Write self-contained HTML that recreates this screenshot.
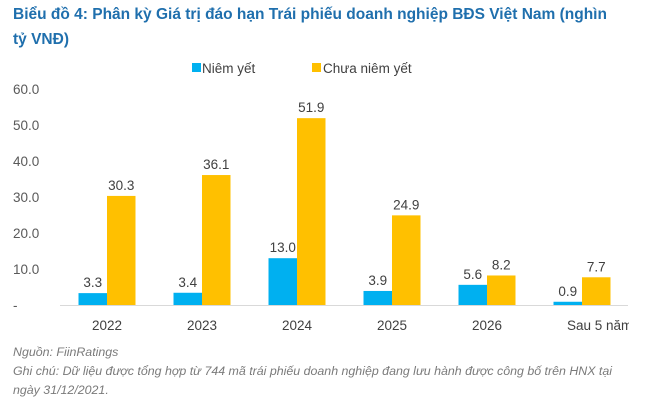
<!DOCTYPE html>
<html><head><meta charset="utf-8"><style>
body{margin:0;width:666px;height:403px;background:#fff;font-family:"Liberation Sans",sans-serif;overflow:hidden;position:relative}
.t{position:absolute;left:13px;top:2px;color:#1f6fad;font-weight:bold;font-size:15.5px;line-height:25px;width:612px}
.n{position:absolute;left:13px;color:#7a7a7a;font-style:italic;font-size:12.4px}
</style></head><body>
<div class="t">Biểu đồ 4: Phân kỳ Giá trị đáo hạn Trái phiếu doanh nghiệp BĐS Việt Nam (nghìn tỷ VNĐ)</div>
<svg id="c" width="666" height="403" style="position:absolute;left:0;top:0"></svg>
<div class="n" style="top:345px">Nguồn: FiinRatings</div>
<div class="n" style="top:364px">Ghi chú: Dữ liệu được tổng hợp từ 744 mã trái phiếu doanh nghiệp đang lưu hành được công bố trên HNX tại</div>
<div class="n" style="top:383px">ngày 31/12/2021.</div>
<script>
const categories=["2022","2023","2024","2025","2026","Sau 5 năm"];
const listed=[3.3,3.4,13.0,3.9,5.6,0.9];
const unlisted=[30.3,36.1,51.9,24.9,8.2,7.7];
const yTicks=[0,10,20,30,40,50,60];
const yTickLabels=["-","10.0","20.0","30.0","40.0","50.0","60.0"];
const svg=document.getElementById('c');const NS="http://www.w3.org/2000/svg";
function y(v){return 305-v*3.6;}
function x(i){return 107+i*95;}
const BW=28.5;
function mk(t,a,txt){const e=document.createElementNS(NS,t);for(const k in a)e.setAttribute(k,a[k]);if(txt!=null)e.textContent=txt;svg.appendChild(e);return e;}
yTicks.forEach((v,i)=>{const e=mk('text',{x:13,y:y(v)+5,'font-size':13.5,fill:'#595959'},yTickLabels[i]);

});
const ax=mk('line',{x1:60,x2:628,y1:305.5,y2:305.5,stroke:'#d9d9d9'});


categories.forEach((c,i)=>{
 const b1=mk('rect',{x:x(i)-BW,y:y(listed[i]),width:BW,height:305-y(listed[i]),fill:'#00b0f0'});
 
 
 const b2=mk('rect',{x:x(i),y:y(unlisted[i]),width:BW,height:305-y(unlisted[i]),fill:'#ffc000'});
 
 
 const l1=mk('text',{x:x(i)-BW/2,y:y(listed[i])-6,'font-size':13.5,fill:'#404040','text-anchor':'middle'},listed[i].toFixed(1));
 
 
 const l2=mk('text',{x:x(i)+BW/2,y:y(unlisted[i])-6,'font-size':13.5,fill:'#404040','text-anchor':'middle'},unlisted[i].toFixed(1));
 
 
 const last=i===categories.length-1;
 const cl=mk('text',{x:last?x(i)-15:x(i),y:330,'font-size':13.5,fill:'#404040','text-anchor':last?'start':'middle'},c);
 
 
});
const cover=mk('rect',{x:629,y:310,width:40,height:30,fill:'#fff'});


const lg1=mk('rect',{x:192,y:63,width:9,height:9,fill:'#00b0f0'});


const lt1=mk('text',{x:202,y:73,'font-size':13.5,fill:'#404040'},'Niêm yết');


const lg2=mk('rect',{x:312,y:63,width:9,height:9,fill:'#ffc000'});


const lt2=mk('text',{x:323,y:73,'font-size':13.5,fill:'#404040'},'Chưa niêm yết');


</script>
</body></html>
